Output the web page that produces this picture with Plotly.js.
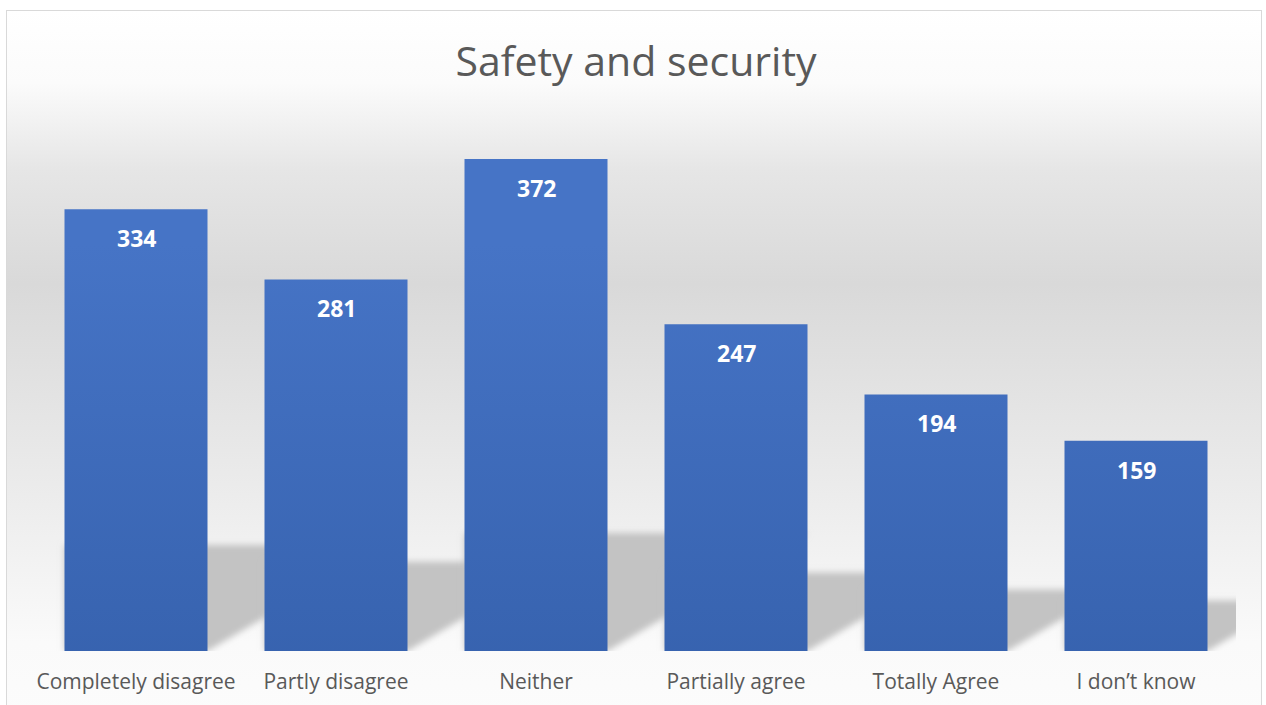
<!DOCTYPE html>
<html>
<head>
<meta charset="utf-8">
<script src="https://cdn.plot.ly/plotly-3.0.1.min.js"></script>
<style>
  html, body { margin: 0; padding: 0; width: 1266px; height: 705px; overflow: hidden; background: #ffffff; }
  #frame {
    position: absolute; left: 6px; top: 10px; width: 1256px; height: 720px;
    border: 1px solid #d9d9d9; box-sizing: border-box;
    background: linear-gradient(to bottom, #ffffff 0%, #fbfbfb 10%, #e6e6e6 22%, #d9d9d9 38%, #e4e4e4 55%, #efefef 72%, #fafafa 88%, #fcfcfc 100%);
  }
  #chart { position: absolute; left: 0; top: 0; width: 1266px; height: 705px; }
</style>
</head>
<body>
<div id="frame"></div>
<div id="chart"></div>
<script>
const categories = ["Completely disagree", "Partly disagree", "Neither", "Partially agree", "Totally Agree", "I don\u2019t know"];
const values = [334, 281, 372, 247, 194, 159];
const chartTitle = "Safety and security";

const barHalf = 0.3575;
const shadows = values.map(function (v, i) {
  const h = 0.24 * v;
  const dx = 0.0027 * v;
  const x0 = i - barHalf, x1 = i + barHalf;
  return {
    type: 'path', xref: 'x', yref: 'y', layer: 'below',
    path: 'M ' + x0 + ',0 L ' + x1 + ',0 L ' + (x1 + dx) + ',' + h + ' L ' + x0 + ',' + h + ' Z',
    fillcolor: '#c3c3c3', line: { width: 0 }
  };
});

const annotations = values.map(function (v, i) {
  return {
    x: categories[i], y: v, xref: 'x', yref: 'y',
    text: '<b>' + v + '</b>', showarrow: false,
    yanchor: 'middle', yshift: -29,
    font: { family: 'Open Sans, sans-serif', size: 23, color: '#ffffff' }
  };
});

const trace = {
  type: 'bar', x: categories, y: values,
  marker: { color: '#3b67b8', line: { width: 0 } },
  hoverinfo: 'x+y'
};

const layout = {
  width: 1266, height: 705,
  margin: { l: 36, r: 30, t: 122, b: 54, pad: 0 },
  paper_bgcolor: 'rgba(0,0,0,0)', plot_bgcolor: 'rgba(0,0,0,0)',
  title: { text: chartTitle, x: 0.5, xref: 'paper', y: 0.912, yref: 'container', yanchor: 'middle',
           font: { family: 'Open Sans, sans-serif', size: 41, color: '#595959' } },
  bargap: 0.285,
  showlegend: false,
  xaxis: { type: 'category', range: [-0.5, 5.5], showgrid: false, zeroline: false, showline: false,
           ticks: '', ticklabelstandoff: 16,
           tickfont: { family: 'Open Sans, sans-serif', size: 21, color: '#595959' }, fixedrange: true },
  yaxis: { range: [0, 400], visible: false, showgrid: false, zeroline: false, fixedrange: true },
  shapes: shadows,
  annotations: annotations
};

Plotly.newPlot('chart', [trace], layout, { displayModeBar: false, staticPlot: true }).then(function (gd) {
  const svg = gd.querySelector('svg.main-svg');
  const ns = 'http://www.w3.org/2000/svg';
  let defs = svg.querySelector('defs');
  if (!defs) { defs = document.createElementNS(ns, 'defs'); svg.insertBefore(defs, svg.firstChild); }
  const grad = document.createElementNS(ns, 'linearGradient');
  grad.setAttribute('id', 'barGrad');
  grad.setAttribute('gradientUnits', 'userSpaceOnUse');
  grad.setAttribute('x1', '0'); grad.setAttribute('y1', '122');
  grad.setAttribute('x2', '0'); grad.setAttribute('y2', '651');
  [['0', '#4674c6'], ['1', '#335ea9']].forEach(function (s) {
    const st = document.createElementNS(ns, 'stop');
    st.setAttribute('offset', s[0]); st.setAttribute('stop-color', s[1]);
    grad.appendChild(st);
  });
  defs.appendChild(grad);
  const filt = document.createElementNS(ns, 'filter');
  filt.setAttribute('id', 'shBlur');
  filt.setAttribute('x', '-20%'); filt.setAttribute('y', '-20%');
  filt.setAttribute('width', '140%'); filt.setAttribute('height', '140%');
  const blur = document.createElementNS(ns, 'feGaussianBlur');
  blur.setAttribute('stdDeviation', '3');
  filt.appendChild(blur);
  defs.appendChild(filt);
  gd.querySelectorAll('.bars .point path').forEach(function (p) {
    p.style.fill = 'url(#barGrad)';
  });
  gd.querySelectorAll('.shapelayer path').forEach(function (p) {
    p.setAttribute('filter', 'url(#shBlur)');
  });
});
</script>
</body>
</html>
